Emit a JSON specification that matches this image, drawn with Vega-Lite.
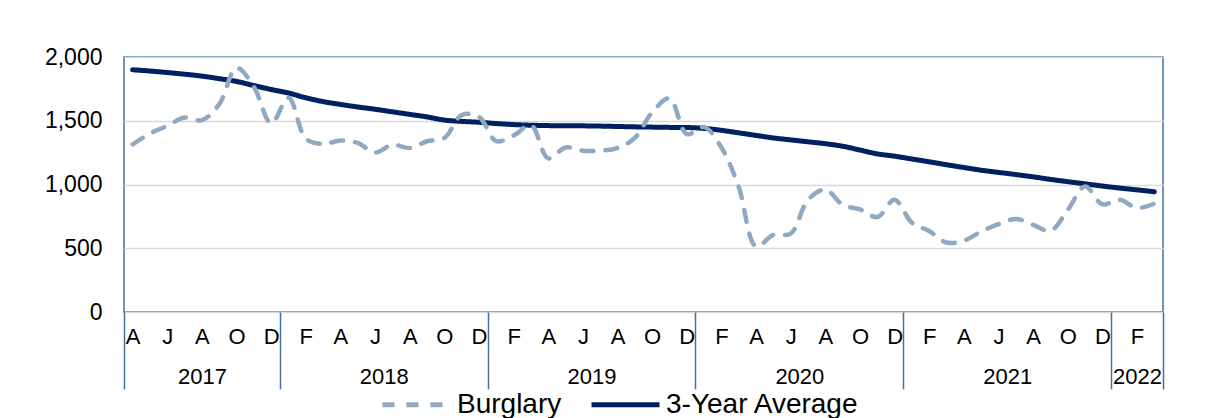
{
  "$schema": "https://vega.github.io/schema/vega-lite/v6.json",
  "autosize": "none",
  "width": 1039,
  "height": 255,
  "padding": {"left": 124, "top": 57, "right": 61, "bottom": 106},
  "background": "white",
  "config": {
    "font": "Liberation Sans",
    "view": {"stroke": "#41719C", "strokeWidth": 1.5},
    "axis": {"labelColor": "black", "labelFont": "Liberation Sans"}
  },
  "data": {"values": [
    {"i":0,"month":"2017-04","series":"Burglary","value":1315},
    {"i":1,"month":"2017-05","series":"Burglary","value":1400},
    {"i":2,"month":"2017-06","series":"Burglary","value":1460},
    {"i":3,"month":"2017-07","series":"Burglary","value":1525},
    {"i":4,"month":"2017-08","series":"Burglary","value":1505},
    {"i":5,"month":"2017-09","series":"Burglary","value":1630},
    {"i":6,"month":"2017-10","series":"Burglary","value":1915},
    {"i":7,"month":"2017-11","series":"Burglary","value":1765},
    {"i":8,"month":"2017-12","series":"Burglary","value":1480},
    {"i":9,"month":"2018-01","series":"Burglary","value":1680},
    {"i":10,"month":"2018-02","series":"Burglary","value":1360},
    {"i":11,"month":"2018-03","series":"Burglary","value":1318},
    {"i":12,"month":"2018-04","series":"Burglary","value":1345},
    {"i":13,"month":"2018-05","series":"Burglary","value":1326},
    {"i":14,"month":"2018-06","series":"Burglary","value":1250},
    {"i":15,"month":"2018-07","series":"Burglary","value":1312},
    {"i":16,"month":"2018-08","series":"Burglary","value":1286},
    {"i":17,"month":"2018-09","series":"Burglary","value":1339},
    {"i":18,"month":"2018-10","series":"Burglary","value":1365},
    {"i":19,"month":"2018-11","series":"Burglary","value":1545},
    {"i":20,"month":"2018-12","series":"Burglary","value":1530},
    {"i":21,"month":"2019-01","series":"Burglary","value":1340},
    {"i":22,"month":"2019-02","series":"Burglary","value":1385},
    {"i":23,"month":"2019-03","series":"Burglary","value":1465},
    {"i":24,"month":"2019-04","series":"Burglary","value":1205},
    {"i":25,"month":"2019-05","series":"Burglary","value":1290},
    {"i":26,"month":"2019-06","series":"Burglary","value":1265},
    {"i":27,"month":"2019-07","series":"Burglary","value":1265},
    {"i":28,"month":"2019-08","series":"Burglary","value":1286},
    {"i":29,"month":"2019-09","series":"Burglary","value":1365},
    {"i":30,"month":"2019-10","series":"Burglary","value":1565},
    {"i":31,"month":"2019-11","series":"Burglary","value":1675},
    {"i":32,"month":"2019-12","series":"Burglary","value":1395},
    {"i":33,"month":"2020-01","series":"Burglary","value":1450},
    {"i":34,"month":"2020-02","series":"Burglary","value":1290},
    {"i":35,"month":"2020-03","series":"Burglary","value":980},
    {"i":36,"month":"2020-04","series":"Burglary","value":515},
    {"i":37,"month":"2020-05","series":"Burglary","value":605},
    {"i":38,"month":"2020-06","series":"Burglary","value":615},
    {"i":39,"month":"2020-07","series":"Burglary","value":880},
    {"i":40,"month":"2020-08","series":"Burglary","value":960},
    {"i":41,"month":"2020-09","series":"Burglary","value":841},
    {"i":42,"month":"2020-10","series":"Burglary","value":805},
    {"i":43,"month":"2020-11","series":"Burglary","value":745},
    {"i":44,"month":"2020-12","series":"Burglary","value":880},
    {"i":45,"month":"2021-01","series":"Burglary","value":700},
    {"i":46,"month":"2021-02","series":"Burglary","value":635},
    {"i":47,"month":"2021-03","series":"Burglary","value":545},
    {"i":48,"month":"2021-04","series":"Burglary","value":560},
    {"i":49,"month":"2021-05","series":"Burglary","value":631},
    {"i":50,"month":"2021-06","series":"Burglary","value":689},
    {"i":51,"month":"2021-07","series":"Burglary","value":730},
    {"i":52,"month":"2021-08","series":"Burglary","value":684},
    {"i":53,"month":"2021-09","series":"Burglary","value":637},
    {"i":54,"month":"2021-10","series":"Burglary","value":800},
    {"i":55,"month":"2021-11","series":"Burglary","value":985},
    {"i":56,"month":"2021-12","series":"Burglary","value":845},
    {"i":57,"month":"2022-01","series":"Burglary","value":880},
    {"i":58,"month":"2022-02","series":"Burglary","value":815},
    {"i":59,"month":"2022-03","series":"Burglary","value":850},
    {"i":0,"month":"2017-04","series":"3-Year Average","value":1900},
    {"i":1,"month":"2017-05","series":"3-Year Average","value":1890},
    {"i":2,"month":"2017-06","series":"3-Year Average","value":1878},
    {"i":3,"month":"2017-07","series":"3-Year Average","value":1865},
    {"i":4,"month":"2017-08","series":"3-Year Average","value":1850},
    {"i":5,"month":"2017-09","series":"3-Year Average","value":1830},
    {"i":6,"month":"2017-10","series":"3-Year Average","value":1808},
    {"i":7,"month":"2017-11","series":"3-Year Average","value":1776},
    {"i":8,"month":"2017-12","series":"3-Year Average","value":1745},
    {"i":9,"month":"2018-01","series":"3-Year Average","value":1717},
    {"i":10,"month":"2018-02","series":"3-Year Average","value":1680},
    {"i":11,"month":"2018-03","series":"3-Year Average","value":1650},
    {"i":12,"month":"2018-04","series":"3-Year Average","value":1628},
    {"i":13,"month":"2018-05","series":"3-Year Average","value":1608},
    {"i":14,"month":"2018-06","series":"3-Year Average","value":1590},
    {"i":15,"month":"2018-07","series":"3-Year Average","value":1570},
    {"i":16,"month":"2018-08","series":"3-Year Average","value":1550},
    {"i":17,"month":"2018-09","series":"3-Year Average","value":1530},
    {"i":18,"month":"2018-10","series":"3-Year Average","value":1505},
    {"i":19,"month":"2018-11","series":"3-Year Average","value":1495},
    {"i":20,"month":"2018-12","series":"3-Year Average","value":1488},
    {"i":21,"month":"2019-01","series":"3-Year Average","value":1478},
    {"i":22,"month":"2019-02","series":"3-Year Average","value":1470},
    {"i":23,"month":"2019-03","series":"3-Year Average","value":1465},
    {"i":24,"month":"2019-04","series":"3-Year Average","value":1462},
    {"i":25,"month":"2019-05","series":"3-Year Average","value":1460},
    {"i":26,"month":"2019-06","series":"3-Year Average","value":1460},
    {"i":27,"month":"2019-07","series":"3-Year Average","value":1458},
    {"i":28,"month":"2019-08","series":"3-Year Average","value":1455},
    {"i":29,"month":"2019-09","series":"3-Year Average","value":1452},
    {"i":30,"month":"2019-10","series":"3-Year Average","value":1450},
    {"i":31,"month":"2019-11","series":"3-Year Average","value":1448},
    {"i":32,"month":"2019-12","series":"3-Year Average","value":1447},
    {"i":33,"month":"2020-01","series":"3-Year Average","value":1440},
    {"i":34,"month":"2020-02","series":"3-Year Average","value":1425},
    {"i":35,"month":"2020-03","series":"3-Year Average","value":1405},
    {"i":36,"month":"2020-04","series":"3-Year Average","value":1385},
    {"i":37,"month":"2020-05","series":"3-Year Average","value":1365},
    {"i":38,"month":"2020-06","series":"3-Year Average","value":1350},
    {"i":39,"month":"2020-07","series":"3-Year Average","value":1335},
    {"i":40,"month":"2020-08","series":"3-Year Average","value":1320},
    {"i":41,"month":"2020-09","series":"3-Year Average","value":1300},
    {"i":42,"month":"2020-10","series":"3-Year Average","value":1270},
    {"i":43,"month":"2020-11","series":"3-Year Average","value":1240},
    {"i":44,"month":"2020-12","series":"3-Year Average","value":1222},
    {"i":45,"month":"2021-01","series":"3-Year Average","value":1200},
    {"i":46,"month":"2021-02","series":"3-Year Average","value":1178},
    {"i":47,"month":"2021-03","series":"3-Year Average","value":1155},
    {"i":48,"month":"2021-04","series":"3-Year Average","value":1133},
    {"i":49,"month":"2021-05","series":"3-Year Average","value":1112},
    {"i":50,"month":"2021-06","series":"3-Year Average","value":1095},
    {"i":51,"month":"2021-07","series":"3-Year Average","value":1078},
    {"i":52,"month":"2021-08","series":"3-Year Average","value":1060},
    {"i":53,"month":"2021-09","series":"3-Year Average","value":1040},
    {"i":54,"month":"2021-10","series":"3-Year Average","value":1022},
    {"i":55,"month":"2021-11","series":"3-Year Average","value":1005},
    {"i":56,"month":"2021-12","series":"3-Year Average","value":988},
    {"i":57,"month":"2022-01","series":"3-Year Average","value":972},
    {"i":58,"month":"2022-02","series":"3-Year Average","value":958},
    {"i":59,"month":"2022-03","series":"3-Year Average","value":943}
  ]},
  "encoding": {
    "y": {
      "field": "value", "type": "quantitative",
      "scale": {"domain": [0, 2000], "nice": false, "zero": true},
      "axis": {
        "title": null, "values": [0, 500, 1000, 1500, 2000], "format": ",.0f",
        "ticks": false, "domain": false, "labelFontSize": 23, "labelPadding": 22,
        "grid": true, "gridColor": "#d9d9d9", "gridWidth": 1.5
      }
    },
    "color": {
      "field": "series", "type": "nominal",
      "scale": {"domain": ["Burglary", "3-Year Average"], "range": ["#8FA9C2", "#002060"]},
      "legend": {
        "title": null, "orient": "none", "legendX": 256, "legendY": 311, "direction": "horizontal",
        "symbolType": "stroke", "symbolSize": 4624, "symbolStrokeWidth": 5,
        "labelFontSize": 28, "labelColor": "black", "labelFont": "Liberation Sans",
        "labelOffset": 4, "columnPadding": 19, "padding": 0, "labelLimit": 400
      }
    },
    "strokeDash": {
      "field": "series", "type": "nominal",
      "scale": {"domain": ["Burglary", "3-Year Average"], "range": [[12, 12], [1, 0]]},
      "legend": {
        "title": null, "orient": "none", "legendX": 256, "legendY": 311, "direction": "horizontal",
        "symbolType": "stroke", "symbolSize": 4624, "symbolStrokeWidth": 5,
        "labelFontSize": 28, "labelColor": "black", "labelFont": "Liberation Sans",
        "labelOffset": 4, "columnPadding": 19, "padding": 0, "labelLimit": 400
      }
    }
  },
  "layer": [
    {
      "transform": [{"filter": "datum.series == '3-Year Average'"}],
      "mark": {"type": "line", "strokeWidth": 5, "interpolate": "catmull-rom", "strokeCap": "round"},
      "encoding": {
        "x": {
          "field": "i", "type": "quantitative",
          "scale": {"domain": [-0.5, 59.5], "nice": false, "zero": false},
          "axis": {
            "orient": "bottom", "title": null, "values": [4, 14.5, 26.5, 38.5, 50.5, 58],
            "labelExpr": "'' + (2017 + floor((datum.value + 3) / 12))",
            "ticks": false, "domain": false, "grid": false,
            "labelFontSize": 22, "labelPadding": 64, "labelBaseline": "middle",
            "labelOverlap": false, "labelFlush": false, "labelBound": false
          }
        }
      }
    },
    {
      "transform": [{"filter": "datum.series == 'Burglary'"}],
      "mark": {"type": "line", "strokeWidth": 4.5, "interpolate": "catmull-rom", "strokeCap": "round"},
      "encoding": {
        "x": {
          "field": "i", "type": "quantitative",
          "scale": {"domain": [-0.5, 59.5], "nice": false, "zero": false},
          "axis": {
            "orient": "bottom", "title": null,
            "values": [-0.5, 0, 2, 4, 6, 8, 8.5, 10, 12, 14, 16, 18, 20, 20.5, 22, 24, 26, 28, 30, 32, 32.5, 34, 36, 38, 40, 42, 44, 44.5, 46, 48, 50, 52, 54, 56, 56.5, 58, 59.5],
            "labelExpr": "datum.value % 1 != 0 ? '' : substring('JFMAMJJASOND', (datum.value + 3) % 12, (datum.value + 3) % 12 + 1)",
            "domain": false, "grid": false,
            "tickSize": 77, "tickWidth": 1.5, "tickColor": "#41719C",
            "tickOpacity": {"condition": {"test": "datum.value % 1 != 0", "value": 1}, "value": 0},
            "labelFontSize": 22, "labelPadding": -53, "labelBaseline": "middle",
            "labelOverlap": false, "labelFlush": false, "labelBound": false
          }
        }
      }
    }
  ],
  "resolve": {"axis": {"x": "independent"}}
}
